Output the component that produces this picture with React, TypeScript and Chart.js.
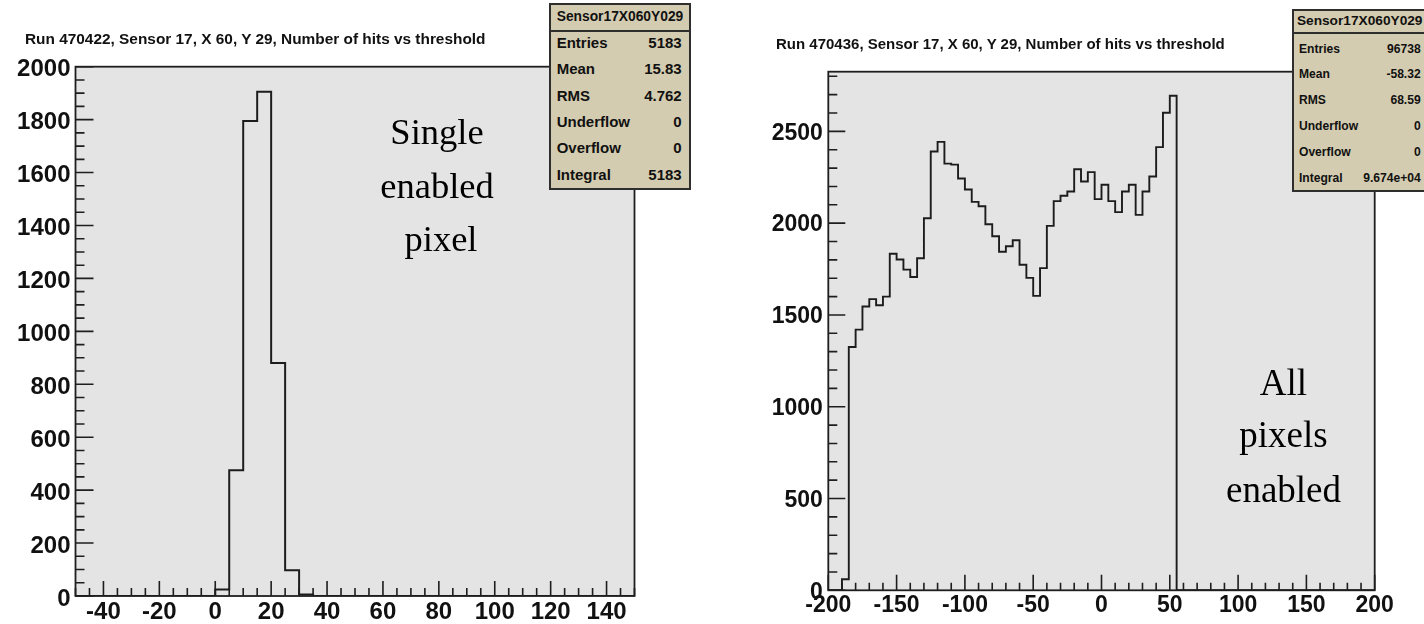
import React, { useEffect, useRef } from 'react';
import { Chart, registerables } from 'chart.js';

Chart.register(...registerables);

// ---------------- data ----------------
const leftTitle = 'Run 470422, Sensor 17, X 60, Y 29, Number of hits vs threshold';
const rightTitle = 'Run 470436, Sensor 17, X 60, Y 29, Number of hits vs threshold';
const histName = 'Sensor17X060Y029';
const statLabels = ['Entries', 'Mean', 'RMS', 'Underflow', 'Overflow', 'Integral'];
const leftStatValues = ['5183', '15.83', '4.762', '0', '0', '5183'];
const rightStatValues = ['96738', '-58.32', '68.59', '0', '0', '9.674e+04'];
const leftNote = ['Single', 'enabled', 'pixel'];
const rightNote = ['All', 'pixels', 'enabled'];

// left histogram: 40 bins of width 5 from -50 to 150
const leftRange = [-50, 150];
const leftBinWidth = 5;
const leftCounts = [
  0, 0, 0, 0, 0, 0, 0, 0, 0, 0,
  25, 475, 1795, 1905, 880, 97, 6,
  0, 0, 0, 0, 0, 0, 0, 0, 0, 0, 0, 0, 0, 0, 0, 0, 0, 0, 0, 0, 0, 0, 0,
];
const leftXTicks = [-40, -20, 0, 20, 40, 60, 80, 100, 120, 140];
const leftYTicks = [0, 200, 400, 600, 800, 1000, 1200, 1400, 1600, 1800, 2000];
const leftYMax = 2000;

// right histogram: 80 bins of width 5 from -200 to 200
const rightRange = [-200, 200];
const rightBinWidth = 5;
const rightCounts = [
  0, 0, 60, 1325, 1420, 1546, 1586, 1553, 1600, 1833,
  1802, 1747, 1707, 1809, 2027, 2390, 2443, 2324, 2319, 2243,
  2183, 2116, 2092, 1994, 1929, 1844, 1874, 1907, 1773, 1702,
  1604, 1755, 1985, 2120, 2149, 2172, 2294, 2227, 2278, 2131,
  2209, 2120, 2060, 2172, 2209, 2045, 2172, 2254, 2414, 2601,
  2694,
  0, 0, 0, 0, 0, 0, 0, 0, 0, 0, 0, 0, 0, 0, 0, 0, 0, 0, 0, 0, 0, 0, 0, 0, 0, 0, 0, 0, 0,
];
const rightXTicks = [-200, -150, -100, -50, 0, 50, 100, 150, 200];
const rightYTicks = [0, 500, 1000, 1500, 2000, 2500];
const rightYMax = 2825;

// ---------------- helpers ----------------
function histPoints(counts: number[], lo: number, w: number) {
  const pts = counts.map((c, i) => ({ x: lo + i * w, y: c }));
  pts.push({ x: lo + counts.length * w, y: counts[counts.length - 1] });
  return pts;
}

function stepsBetween(min: number, max: number, step: number) {
  const out: number[] = [];
  const n = Math.round((max - min) / step);
  for (let i = 0; i <= n; i++) out.push(min + i * step);
  return out;
}

const rootFrame = {
  id: 'rootFrame',
  beforeDatasetsDraw(chart: any, _args: any, opts: any) {
    const { ctx, chartArea: a } = chart;
    ctx.save();
    ctx.fillStyle = opts.bg;
    ctx.fillRect(a.left, a.top, a.right - a.left, a.bottom - a.top);
    ctx.restore();
  },
  afterDatasetsDraw(chart: any, _args: any, opts: any) {
    const { ctx, chartArea: a } = chart;
    const xs = chart.scales.x;
    const ys = chart.scales.y;
    ctx.save();
    ctx.strokeStyle = opts.color;
    ctx.lineWidth = opts.tickWidth;
    ctx.beginPath();
    const xMajor = new Set(opts.xMajor);
    for (const v of stepsBetween(xs.min, xs.max, opts.xMinorStep)) {
      const px = xs.getPixelForValue(v);
      const len = xMajor.has(v) ? opts.xMajorLen : opts.xMinorLen;
      ctx.moveTo(px, a.bottom);
      ctx.lineTo(px, a.bottom - len);
    }
    const yMajor = new Set(opts.yMajor);
    for (const v of stepsBetween(ys.min, Math.floor(ys.max / opts.yMinorStep) * opts.yMinorStep, opts.yMinorStep)) {
      const py = ys.getPixelForValue(v);
      const len = yMajor.has(v) ? opts.yMajorLen : opts.yMinorLen;
      ctx.moveTo(a.left, py);
      ctx.lineTo(a.left + len, py);
    }
    ctx.stroke();
    ctx.lineWidth = opts.frameWidth;
    ctx.strokeRect(a.left, a.top, a.right - a.left, a.bottom - a.top);
    ctx.restore();
  },
};

type PanelCfg = {
  counts: number[];
  range: number[];
  binWidth: number;
  xTicks: number[];
  yTicks: number[];
  yMax: number;
  area: { left: number; top: number; right: number; bottom: number };
  fontSize: number;
  yLabelPad: number;
  yLabelOffset: number;
  xLabelPad: number;
  xMinorStep: number;
  yMinorStep: number;
  tickLens: number[];
  lineWidth: number;
};

function HistPanel({ cfg, left }: { cfg: PanelCfg; left: number }) {
  const ref = useRef<HTMLCanvasElement | null>(null);
  useEffect(() => {
    if (!ref.current) return;
    const W = 712;
    const H = 624;
    const font = { family: '"Liberation Sans", Arial, Helvetica, sans-serif', size: cfg.fontSize, weight: 'bold' as const };
    const chart = new Chart(ref.current, {
      type: 'line',
      data: {
        datasets: [
          {
            data: histPoints(cfg.counts, cfg.range[0], cfg.binWidth),
            stepped: 'before',
            borderColor: '#1c1c1c',
            borderWidth: cfg.lineWidth,
            pointRadius: 0,
            fill: false,
          },
        ],
      },
      options: {
        animation: false,
        responsive: false,
        devicePixelRatio: 1,
        layout: {
          padding: { top: cfg.area.top, right: W - cfg.area.right, left: 0, bottom: 0 },
        },
        plugins: {
          legend: { display: false },
          tooltip: { enabled: false },
          title: { display: false },
          rootFrame: {
            bg: '#e4e4e4',
            color: '#1e1e1e',
            tickWidth: 1.6,
            frameWidth: 1.8,
            xMajor: cfg.xTicks,
            yMajor: cfg.yTicks,
            xMinorStep: cfg.xMinorStep,
            yMinorStep: cfg.yMinorStep,
            xMajorLen: cfg.tickLens[0],
            xMinorLen: cfg.tickLens[1],
            yMajorLen: cfg.tickLens[2],
            yMinorLen: cfg.tickLens[3],
          },
        } as any,
        scales: {
          x: {
            type: 'linear',
            min: cfg.range[0],
            max: cfg.range[1],
            afterBuildTicks: (s: any) => {
              s.ticks = cfg.xTicks.map((v) => ({ value: v }));
            },
            afterFit: (s: any) => {
              s.height = H - cfg.area.bottom;
            },
            grid: { display: false, drawTicks: false },
            border: { display: false },
            ticks: {
              autoSkip: false,
              maxRotation: 0,
              minRotation: 0,
              padding: cfg.xLabelPad,
              color: '#111',
              font,
              callback: (v: any) => String(v),
            },
          },
          y: {
            type: 'linear',
            min: 0,
            max: cfg.yMax,
            afterBuildTicks: (s: any) => {
              s.ticks = cfg.yTicks.map((v) => ({ value: v }));
            },
            afterFit: (s: any) => {
              s.width = cfg.area.left;
            },
            grid: { display: false, drawTicks: false },
            border: { display: false },
            ticks: {
              autoSkip: false,
              padding: cfg.yLabelPad,
              labelOffset: cfg.yLabelOffset,
              color: '#111',
              font,
              callback: (v: any) => String(v),
            },
          },
        },
      },
      plugins: [rootFrame as any],
    });
    return () => chart.destroy();
  }, [cfg]);
  return (
    <canvas
      ref={ref}
      width={712}
      height={624}
      style={{ position: 'absolute', left, top: 0, width: 712, height: 624 }}
    />
  );
}

const leftCfg: PanelCfg = {
  counts: leftCounts,
  range: leftRange,
  binWidth: leftBinWidth,
  xTicks: leftXTicks,
  yTicks: leftYTicks,
  yMax: leftYMax,
  area: { left: 75.5, top: 66.7, right: 634.5, bottom: 596 },
  fontSize: 24,
  yLabelPad: 5,
  yLabelOffset: 3,
  xLabelPad: 2,
  xMinorStep: 5,
  yMinorStep: 50,
  tickLens: [15, 8, 18, 9],
  lineWidth: 2,
};

const rightCfg: PanelCfg = {
  counts: rightCounts,
  range: rightRange,
  binWidth: rightBinWidth,
  xTicks: rightXTicks,
  yTicks: rightYTicks,
  yMax: rightYMax,
  area: { left: 828.3 - 712, top: 71.7, right: 1374.7 - 712, bottom: 590.3 },
  fontSize: 23,
  yLabelPad: 5.5,
  yLabelOffset: 2,
  xLabelPad: 2,
  xMinorStep: 10,
  yMinorStep: 100,
  tickLens: [15.5, 7.5, 17, 9],
  lineWidth: 1.9,
};

const sans = '"Liberation Sans", Arial, Helvetica, sans-serif';
const serif = '"Liberation Serif", "Times New Roman", Times, serif';

function StatBox(props: {
  left: number;
  top: number;
  width: number;
  height: number;
  dividerY: number;
  headerFont: number;
  rowFont: number;
  rowStart: number;
  rowStep: number;
  padL: number;
  valueRight: number;
  values: string[];
}) {
  const p = props;
  return (
    <div
      style={{
        position: 'absolute',
        left: p.left,
        top: p.top,
        width: p.width,
        height: p.height,
        boxSizing: 'border-box',
        border: '2px solid #2e2e2e',
        background: '#d4ccb0',
        fontFamily: sans,
        fontWeight: 'bold',
        color: '#111',
      }}
    >
      <div
        style={{
          position: 'absolute',
          left: 0,
          right: 0,
          top: (p.dividerY - p.top) / 2 - 2 - p.headerFont / 2,
          fontSize: p.headerFont,
          lineHeight: `${p.headerFont}px`,
          textAlign: 'center',
          whiteSpace: 'nowrap',
        }}
      >
        {histName}
      </div>
      <div
        style={{
          position: 'absolute',
          left: 0,
          right: 0,
          top: p.dividerY - p.top - 3,
          height: 2,
          background: '#2e2e2e',
        }}
      />
      {statLabels.map((lab, i) => (
        <div
          key={lab}
          style={{
            position: 'absolute',
            left: p.padL - 2,
            width: p.valueRight - p.padL,
            top: p.rowStart + i * p.rowStep - p.top - 2 - p.rowFont / 2,
            fontSize: p.rowFont,
            lineHeight: `${p.rowFont}px`,
            display: 'flex',
            justifyContent: 'space-between',
            whiteSpace: 'nowrap',
          }}
        >
          <span>{lab}</span>
          <span>{p.values[i]}</span>
        </div>
      ))}
    </div>
  );
}

function Note({ lines, cx, baselines, size, dx }: { lines: string[]; cx: number; baselines: number[]; size: number; dx: number[] }) {
  return (
    <>
      {lines.map((t, i) => (
        <div
          key={t}
          style={{
            position: 'absolute',
            left: cx + dx[i] - 150,
            width: 300,
            top: baselines[i] - 0.8375 * size,
            fontFamily: serif,
            fontSize: size,
            lineHeight: `${size}px`,
            textAlign: 'center',
            color: '#000',
            whiteSpace: 'nowrap',
          }}
        >
          {t}
        </div>
      ))}
    </>
  );
}

export default function App() {
  return (
    <div
      style={{
        position: 'absolute',
        left: 0,
        top: 0,
        width: 1424,
        height: 624,
        overflow: 'hidden',
        background: '#fff',
      }}
    >
      <HistPanel cfg={leftCfg} left={0} />
      <HistPanel cfg={rightCfg} left={712} />

      <div
        style={{
          position: 'absolute',
          left: 25,
          top: 38.3 - 7.7,
          fontFamily: sans,
          fontWeight: 'bold',
          fontSize: 15.4,
          lineHeight: '15.4px',
          color: '#111',
          whiteSpace: 'nowrap',
        }}
      >
        {leftTitle}
      </div>
      <div
        style={{
          position: 'absolute',
          left: 776,
          top: 43.3 - 7.5,
          fontFamily: sans,
          fontWeight: 'bold',
          fontSize: 15,
          lineHeight: '15px',
          color: '#111',
          whiteSpace: 'nowrap',
        }}
      >
        {rightTitle}
      </div>

      <Note lines={leftNote} cx={437} baselines={[145, 199, 252]} size={36.5} dx={[0, 0, 4]} />
      <Note lines={rightNote} cx={1283.5} baselines={[395, 447, 501.5]} size={37} dx={[0, 0, 0]} />

      <StatBox
        left={549.3}
        top={3.3}
        width={141.4}
        height={186.7}
        dividerY={30.7}
        headerFont={13.8}
        rowFont={15}
        rowStart={42.7}
        rowStep={26.3}
        padL={7.4}
        valueRight={132.4}
        values={leftStatValues}
      />
      <StatBox
        left={1291.7}
        top={9}
        width={136}
        height={183.3}
        dividerY={33.3}
        headerFont={13.7}
        rowFont={12.1}
        rowStart={48.7}
        rowStep={25.8}
        padL={7.3}
        valueRight={129}
        values={rightStatValues}
      />
    </div>
  );
}
